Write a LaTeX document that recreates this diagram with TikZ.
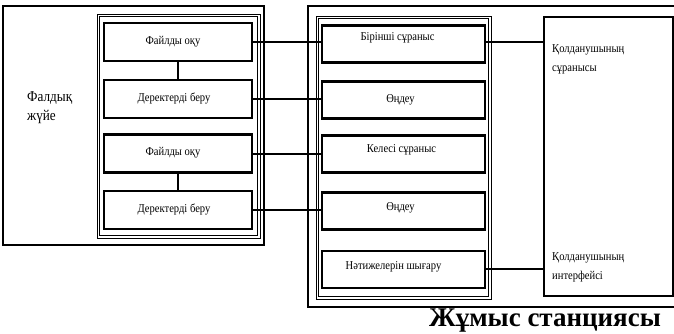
\documentclass[tikz,border=0pt]{standalone}
\usepackage{fontspec}
\setmainfont{Liberation Serif}
\newfontfamily\narrowserif[FakeStretch=0.88]{Liberation Serif}
\begin{document}
\begin{tikzpicture}[x=1pt,y=-1pt,
  outerbox/.style={draw,line width=1.4pt},
  frameline/.style={draw,line width=0.9pt},
  stepbox/.style={draw,line width=2.6pt,minimum width=148pt,minimum height=38pt,inner sep=0pt},
  rbox/.style={draw,line width=2.6pt,minimum width=163pt,minimum height=37pt,inner sep=0pt},
  boxtext/.style={font=\narrowserif\fontsize{12}{14}\selectfont},
  link/.style={line width=2pt},
  note/.style={font=\narrowserif\fontsize{12}{19}\selectfont,align=left,anchor=west,inner sep=0pt}
]
\path[use as bounding box,clip] (0,0) rectangle (674,334);
\fill[white] (0,0) rectangle (674,334);

% file system block
\draw[outerbox] (3,6) rectangle (264,245);
\draw[frameline] (97,14) rectangle (260,238);
\draw[frameline] (99.5,16.5) rectangle (257.5,235.5);
\node[note,font=\narrowserif\fontsize{15}{19}\selectfont] (fs) at (27,108) {Фалдық\\жүйе};

\node[stepbox,label={[boxtext,xshift=-5pt]center:Файлды оқу}] (L1) at (178,42) {};
\node[stepbox,label={[boxtext,xshift=-4pt]center:Деректерді беру}] (L2) at (178,99) {};
\node[stepbox,label={[boxtext,xshift=-5pt,yshift=1pt]center:Файлды оқу}] (L3) at (178,153.5) {};
\node[stepbox,label={[boxtext,xshift=-4pt,yshift=1pt]center:Деректерді беру}] (L4) at (178,210) {};

\draw[link] (L1.south) -- (L2.north);
\draw[link] (L3.south) -- (L4.north);

% workstation block
\draw[outerbox] (308,6) rectangle (690,307);
\draw[frameline] (316,16) rectangle (491,299);
\draw[frameline] (318.5,18.5) rectangle (488.5,296.5);

\node[rbox,label={[boxtext,xshift=-6pt,yshift=6pt]center:Бірінші сұраныс}] (R1) at (403.5,44) {};
\node[rbox,label={[boxtext,xshift=-3pt]center:Өңдеу}] (R2) at (403.5,100) {};
\node[rbox,label={[boxtext,xshift=-2pt,yshift=4pt]center:Келесі сұраныс}] (R3) at (403.5,154) {};
\node[rbox,label={[boxtext,xshift=-3pt,yshift=3pt]center:Өңдеу}] (R4) at (403.5,211) {};
\node[rbox,line width=2pt,label={[boxtext,xshift=-10pt,yshift=2pt]center:Нәтижелерін шығару}] (R5) at (403.5,269) {};

% user side
\node[draw,line width=1.8pt,minimum width=129pt,minimum height=279pt,inner sep=0pt] (W) at (608.5,156.5) {};
\node[note] (q1) at (552,59) {Қолданушының\\сұранысы};
\node[note] (q2) at (552,267.5) {Қолданушының\\интерфейсі};

% connections
\draw[link] (L1.east) -- (L1.east -| R1.west);
\draw[link,line width=2.6pt] (L2.east) -- (L2.east -| R2.west);
\draw[link] (L3.east) -- (L3.east -| R3.west);
\draw[link] (L4.east) -- (L4.east -| R4.west);
\draw[link] ([yshift=2pt]R1.east) -- ([yshift=2pt]R1.east -| W.west);
\draw[link] (R5.east) -- (R5.east -| W.west);

\node[font=\bfseries\fontsize{27}{29}\selectfont,inner sep=0pt] (ws) at (545,321) {Жұмыс станциясы};
\end{tikzpicture}
\end{document}
